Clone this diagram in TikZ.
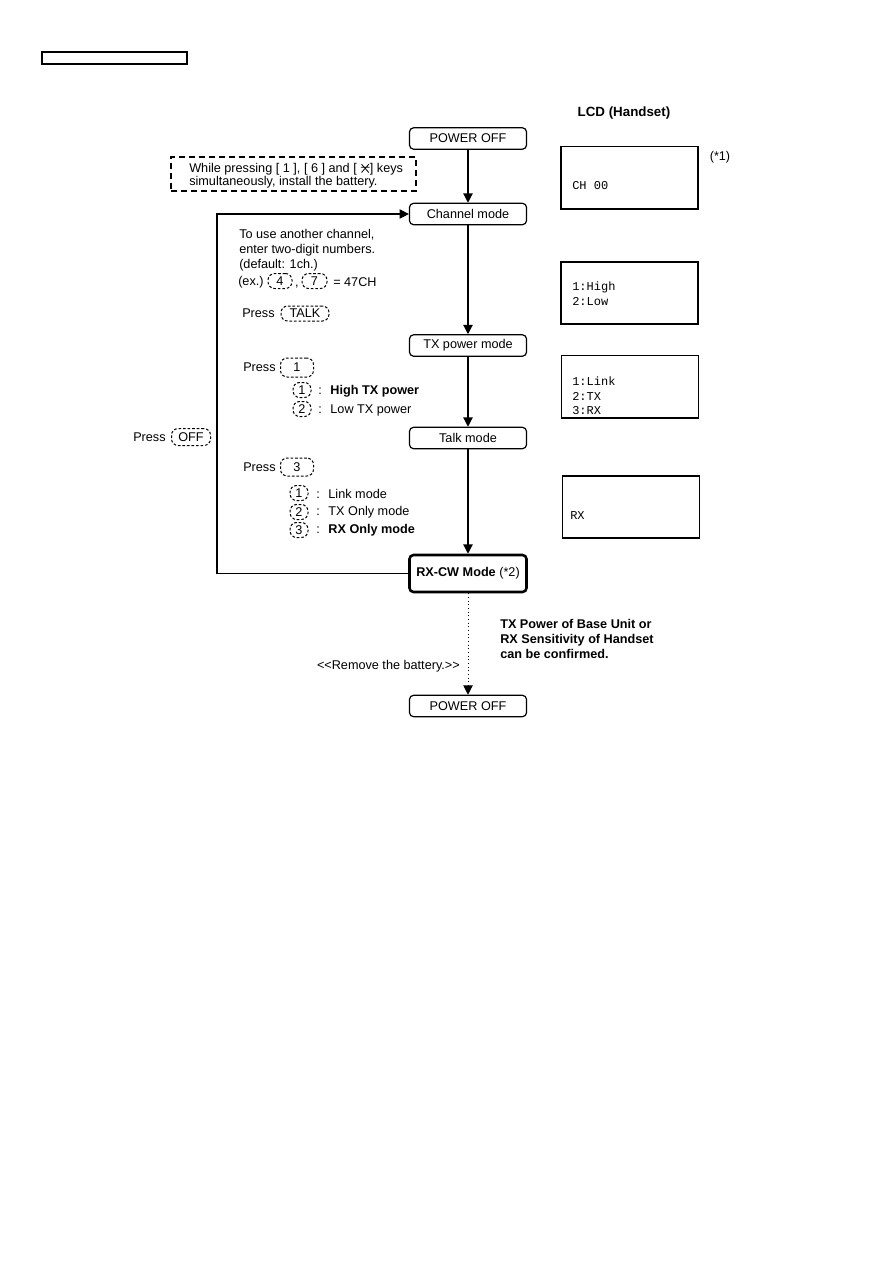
\documentclass[tikz,border=0pt]{standalone}
\usepackage{fontspec}
\setmainfont{Liberation Sans}
\newfontfamily\lcdfont{Liberation Mono}
\usetikzlibrary{arrows.meta}
\newcommand{\starkey}{\tikz[baseline=0pt,x=1pt,y=1pt,line width=0.6pt]{\draw (0.3,0.2)--(5.7,6.4) (0.3,6.4)--(5.7,0.2) (-0.3,4.2)--(6.3,4.2);}}
\begin{document}
\begin{tikzpicture}[x=0.75pt,y=-0.75pt,
  txt/.style={font=\fontsize{9.5}{11.25}\selectfont, inner sep=0pt, anchor=west, align=left},
  btxt/.style={txt, font=\fontsize{9.5}{11.25}\selectfont\bfseries},
  modebox/.style={draw, rounded corners=3pt, line width=0.9pt, minimum width=87.75pt, minimum height=16pt, inner sep=0pt, font=\fontsize{9.5}{11.25}\selectfont},
  keybox/.style={draw, dash pattern=on 2pt off 1.4pt, line width=0.75pt, rounded corners=5pt, inner sep=0pt, font=\fontsize{9.5}{11.25}\selectfont},
  lcd/.style={draw, line width=1pt, minimum width=102.75pt, minimum height=47pt, inner sep=0pt},
  lcdtxt/.style={font=\lcdfont\fontsize{9}{11.25}\selectfont, inner sep=0pt, anchor=west},
  arr/.style={-{Triangle[length=7pt,width=7pt]}, line width=0.9pt},
]
\useasboundingbox (0,0) rectangle (893,1263);

% header box
\node[draw, line width=0.9pt, minimum width=108.75pt, minimum height=9pt, inner sep=0pt] (hdr) at (114.5,58) {};

% mode boxes
\node[modebox] (pw1) at (468,138.5) {POWER OFF};
\node[modebox] (ch) at (468,214) {Channel mode};
\node[modebox] (tx) at (468,345.5) {TX power mode};
\node[modebox] (talk) at (468,438) {Talk mode};
\node[modebox, line width=1.9pt, minimum height=27.75pt] (rxcw) at (468,573.5) {\textbf{RX-CW Mode} (*2)};
\node[modebox] (pw2) at (468,706) {POWER OFF};

% dashed instruction box
\node[draw, dash pattern=on 4.5pt off 3pt, line width=0.9pt, minimum width=183.75pt, minimum height=25.5pt, inner sep=0pt] (inst) at (293.5,174) {};
\node[txt, font=\fontsize{9.5}{9.75}\selectfont] (insttxt) at (189,176)
  {While pressing [ 1 ], [ 6 ] and [ \starkey] keys\\simultaneously, install the battery.};

% connectors
\coordinate (loopx) at (217,0);
\draw[arr] (pw1) -- (ch);
\draw[arr] (ch) -- (tx);
\draw[arr] (tx) -- (talk);
\draw[arr] (talk) -- (rxcw);
\draw[arr] (rxcw.west) -| (loopx |- ch.west) -- (ch.west);
\draw[-{Triangle[length=7pt,width=7pt]}, line width=0.75pt, dotted] (rxcw) -- (pw2);

% channel text
\node[txt] (chtxt) at (239,250.5) {To use another channel,\\enter two-digit numbers.\\(default: 1ch.)};
\node[txt] (ex) at (238,282) {(ex.)};
\node[keybox, minimum width=18pt, minimum height=11.25pt] (k4) at (280,281) {4};
\node[txt, anchor=base] (comma) at (297,286) {,};
\node[keybox, minimum width=18.75pt, minimum height=11.25pt] (k7) at (314.5,281) {7};
\node[txt] (eq) at (333,282) {= 47CH};

\node[txt] (ptalk) at (242,313) {Press};
\node[keybox, minimum width=36pt, minimum height=11.25pt] (ktalk) at (305,313.5) {TALK};

% TX power text
\node[txt] (p1) at (243,367) {Press};
\node[keybox, minimum width=24.75pt, minimum height=14.25pt] (kp1) at (297,367.5) {1};
\node[keybox, minimum width=13.5pt, minimum height=11.25pt] (kh1) at (302,390) {1};
\node[txt] (high) at (318,391) {:\hspace{6.5pt}\textbf{High TX power}};
\node[keybox, minimum width=13.5pt, minimum height=11.25pt] (kh2) at (302,409) {2};
\node[txt] (low) at (318,410) {:\hspace{6.5pt}Low TX power};

% OFF
\node[txt] (poff) at (133,437) {Press};
\node[keybox, minimum width=29.25pt, minimum height=12.75pt] (koff) at (191,437) {OFF};

% Talk text
\node[txt] (p3) at (243,467) {Press};
\node[keybox, minimum width=24.75pt, minimum height=13.5pt] (kp3) at (297,467) {3};
\node[keybox, minimum width=13.5pt, minimum height=11.25pt] (kl1) at (299,493) {1};
\node[txt] (link) at (316,494) {:\hspace{6.5pt}Link mode};
\node[keybox, minimum width=13.5pt, minimum height=11.25pt] (kl2) at (299,512) {2};
\node[txt] (txonly) at (316,512) {:\hspace{6.5pt}TX Only mode};
\node[keybox, minimum width=13.5pt, minimum height=11.25pt] (kl3) at (299,530) {3};
\node[txt] (rxonly) at (316,530) {:\hspace{6.5pt}\textbf{RX Only mode}};

% bottom texts
\node[btxt] (conf) at (500,639) {TX Power of Base Unit or\\RX Sensitivity of Handset\\can be confirmed.};
\node[txt, anchor=east] (remove) at (460,666) {<{}<Remove the battery.>{}>};

% LCD column
\node[font=\fontsize{10}{12}\selectfont\bfseries, inner sep=0pt] (lcdt) at (624,113) {LCD (Handset)};
\node[lcd] (lcd1) at (629.5,177.5) {};
\node[txt, anchor=center] (s1) at (720,157) {(*1)};
\node[lcdtxt] (l1a) at (572,186) {CH 00};
\node[lcd, minimum height=46.5pt] (lcd2) at (629.5,293) {};
\node[lcdtxt] (l2a) at (572,287) {1:High};
\node[lcdtxt] (l2b) at (572,302) {2:Low};
\node[lcd] (lcd3) at (630,386.5) {};
\node[lcdtxt] (l3a) at (572,381) {1:Link};
\node[lcdtxt] (l3b) at (572,396) {2:TX};
\node[lcdtxt] (l3c) at (572,411) {3:RX};
\node[lcd, minimum height=46.5pt] (lcd4) at (631,507) {};
\node[lcdtxt] (l4a) at (570,516) {RX};
\end{tikzpicture}
\end{document}
